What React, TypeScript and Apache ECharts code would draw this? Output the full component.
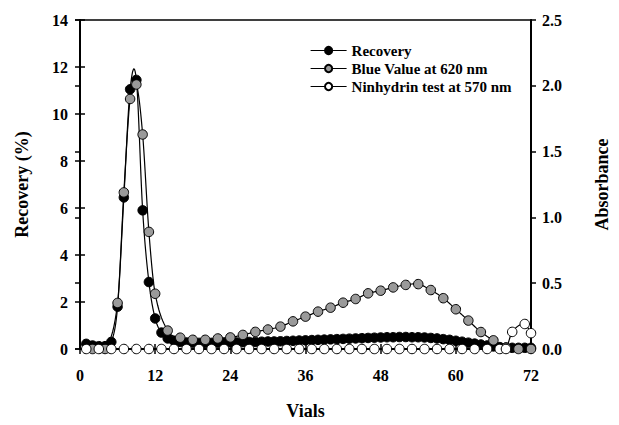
import React, { useEffect, useRef } from "react";
import * as echarts from "echarts";

const FONT = '"Times New Roman", "Liberation Serif", serif';

// Recovery (%) — left axis, every vial
const recoveryVials = [
  1, 2, 3, 4, 5, 6, 7, 8, 9, 10, 11, 12, 13, 14, 15, 16, 17, 18, 19, 20, 21, 22, 23, 24,
  25, 26, 27, 28, 29, 30, 31, 32, 33, 34, 35, 36, 37, 38, 39, 40, 41, 42, 43, 44, 45, 46, 47, 48,
  49, 50, 51, 52, 53, 54, 55, 56, 57, 58, 59, 60, 61, 62, 63, 64, 65, 66, 67, 68, 69, 70, 71, 72,
];
const recoveryPct = [
  0.22, 0.15, 0.12, 0.12, 0.3, 1.8, 6.45, 11.05, 11.45, 5.9, 2.85, 1.3, 0.7, 0.45, 0.35, 0.3, 0.28, 0.27, 0.26, 0.26, 0.26, 0.27, 0.27, 0.28,
  0.28, 0.29, 0.3, 0.3, 0.31, 0.32, 0.32, 0.33, 0.34, 0.35, 0.36, 0.37, 0.38, 0.39, 0.4, 0.41, 0.42, 0.43, 0.44, 0.45, 0.46, 0.47, 0.48, 0.49,
  0.5, 0.5, 0.51, 0.51, 0.5, 0.5, 0.49, 0.47, 0.45, 0.42, 0.39, 0.35, 0.31, 0.27, 0.23, 0.19, 0.15, 0.11, 0.08, 0.06, 0.05, 0.05, 0.05, 0.05,
];

// Blue Value at 620 nm — right axis (Absorbance)
const blueVials = [
  2, 4, 6, 7, 8, 9, 10, 11, 12, 14, 16, 18, 20, 22, 24, 26, 28, 30, 32, 34, 36, 38, 40,
  42, 44, 46, 48, 50, 52, 54, 56, 58, 60, 62, 64, 66, 68, 70, 72,
];
const blueAbs = [
  0.0, 0.0, 0.35, 1.19, 1.9, 2.01, 1.63, 0.89, 0.42, 0.14, 0.086, 0.07, 0.07, 0.08, 0.088, 0.107, 0.13, 0.148, 0.17, 0.21, 0.246, 0.284, 0.314,
  0.352, 0.38, 0.423, 0.443, 0.468, 0.487, 0.493, 0.448, 0.386, 0.302, 0.216, 0.129, 0.066, 0.01, 0.0, 0.0,
];

// Ninhydrin test at 570 nm — right axis (Absorbance)
const ninVials = [
  1, 3, 5, 7, 9, 11, 13, 15, 17, 19, 21, 23, 25, 27, 29, 31, 33, 35, 37, 39, 41, 43, 45,
  47, 49, 51, 53, 55, 57, 59, 61, 63, 65, 67, 68, 69, 71, 72,
];
const ninAbs = [
  0, 0, 0, 0, 0, 0, 0, 0, 0, 0, 0, 0, 0, 0, 0, 0, 0, 0, 0, 0, 0, 0, 0,
  0, 0, 0, 0, 0, 0, 0, 0, 0, 0, 0, 0, 0.13, 0.19, 0.12,
];

const seriesNames = ["Recovery", "Blue Value at 620 nm", "Ninhydrin test at 570 nm"];
const xAxisName = "Vials";
const leftAxisName = "Recovery (%)";
const rightAxisName = "Absorbance";

const pairs = (xs: number[], ys: number[]) => xs.map((x, i) => [x, ys[i]]);

const labelStyle = { color: "#000", fontFamily: FONT, fontWeight: "bold" as const, fontSize: 16 };
const nameStyle = { color: "#000", fontFamily: FONT, fontWeight: "bold" as const, fontSize: 18 };

// cubic Hermite spline (x-parameterised) through pixel points
function splinePts(p: number[][], steps = 10): number[][] {
  const n = p.length;
  const m = p.map((_, i) => {
    const a = p[Math.max(i - 1, 0)];
    const b = p[Math.min(i + 1, n - 1)];
    return (b[1] - a[1]) / (b[0] - a[0]);
  });
  const out: number[][] = [p[0]];
  for (let i = 0; i < n - 1; i++) {
    const [x0, y0] = p[i];
    const [x1, y1] = p[i + 1];
    const h = x1 - x0;
    for (let k = 1; k <= steps; k++) {
      const t = k / steps;
      const t2 = t * t, t3 = t2 * t;
      const y = (2 * t3 - 3 * t2 + 1) * y0 + (t3 - 2 * t2 + t) * h * m[i] + (-2 * t3 + 3 * t2) * y1 + (t3 - t2) * h * m[i + 1];
      out.push([x0 + t * h, y]);
    }
  }
  return out;
}

export default function App() {
  const ref = useRef<HTMLDivElement>(null);
  useEffect(() => {
    document.body.style.margin = "0";
    const chart = echarts.init(ref.current!, null, { renderer: "svg" });

    const curve = (data: number[][], yIdx: number, z: number) => ({
      type: "custom",
      xAxisIndex: 0,
      yAxisIndex: yIdx,
      data,
      silent: true,
      clip: false,
      z,
      renderItem: (params: any, api: any) => {
        if (params.dataIndex !== 0) return { type: "group", children: [] };
        const px = data.map((d) => api.coord(d));
        return {
          type: "polyline",
          shape: { points: splinePts(px) },
          style: { stroke: "#000", lineWidth: 1.2, fill: "none" },
        };
      },
    });

    const markers = (name: string, data: number[][], yIdx: number, fill: string, z: number) => ({
      name,
      type: "line",
      xAxisIndex: 0,
      yAxisIndex: yIdx,
      data,
      symbol: "circle",
      symbolSize: 9.5,
      showSymbol: true,
      showAllSymbol: true,
      clip: false,
      z,
      lineStyle: { color: "#000", width: 0, opacity: 0 },
      itemStyle: { color: fill, borderColor: "#000", borderWidth: 1 },
    });

    const recData = pairs(recoveryVials, recoveryPct);
    const blueData = pairs(blueVials, blueAbs);
    const ninData = pairs(ninVials, ninAbs);

    chart.setOption({
      animation: false,
      backgroundColor: "#fff",
      grid: { left: 80, right: 78, top: 20, bottom: 74, show: true, borderColor: "#000", borderWidth: 1.5 },
      legend: {
        data: seriesNames,
        orient: "vertical",
        left: 305,
        top: 38,
        itemWidth: 36,
        itemHeight: 9,
        itemGap: 3,
        lineStyle: { color: "#000", width: 1.2, opacity: 1 },
        textStyle: { color: "#000", fontFamily: FONT, fontWeight: "bold", fontSize: 15 },
      },
      xAxis: [
        {
          type: "value",
          min: 0,
          max: 72,
          interval: 12,
          position: "bottom",
          name: xAxisName,
          nameLocation: "middle",
          nameGap: 53,
          nameTextStyle: nameStyle,
          axisLine: { show: true, onZero: false, lineStyle: { color: "#000", width: 2 } },
          axisTick: { show: true, inside: false, length: 5, lineStyle: { color: "#000", width: 1.5 } },
          axisLabel: { ...labelStyle, margin: 18 },
          splitLine: { show: false },
        },
        {
          type: "value",
          min: 0,
          max: 72,
          interval: 12,
          position: "bottom",
          axisLine: { show: false },
          axisTick: { show: true, inside: true, length: 5, lineStyle: { color: "#000", width: 1.5 } },
          axisLabel: { show: false },
          splitLine: { show: false },
        },
      ],
      yAxis: [
        {
          type: "value",
          min: 0,
          max: 14,
          interval: 2,
          position: "left",
          name: leftAxisName,
          nameLocation: "middle",
          nameRotate: 90,
          nameGap: 49,
          nameTextStyle: nameStyle,
          axisLine: { show: true, onZero: false, lineStyle: { color: "#000", width: 2 } },
          axisTick: { show: true, inside: false, length: 5, lineStyle: { color: "#000", width: 1.5 } },
          axisLabel: { ...labelStyle, margin: 12 },
          splitLine: { show: false },
        },
        {
          type: "value",
          min: 0,
          max: 14,
          interval: 2,
          position: "left",
          axisLine: { show: false },
          axisTick: { show: true, inside: true, length: 5, lineStyle: { color: "#000", width: 1.5 } },
          axisLabel: { show: false },
          splitLine: { show: false },
        },
        {
          type: "value",
          min: 0,
          max: 2.5,
          interval: 0.5,
          position: "right",
          name: rightAxisName,
          nameLocation: "middle",
          nameRotate: 90,
          nameGap: 62,
          nameTextStyle: nameStyle,
          axisLine: { show: true, onZero: false, lineStyle: { color: "#000", width: 2 } },
          axisTick: { show: true, inside: false, length: 5, lineStyle: { color: "#000", width: 1.5 } },
          axisLabel: { ...labelStyle, margin: 11, formatter: (v: number) => v.toFixed(1) },
          splitLine: { show: false },
        },
        {
          type: "value",
          min: 0,
          max: 2.5,
          interval: 0.5,
          position: "right",
          axisLine: { show: false },
          axisTick: { show: true, inside: true, length: 5, lineStyle: { color: "#000", width: 1.5 } },
          axisLabel: { show: false },
          splitLine: { show: false },
        },
      ],
      series: [
        curve(recData, 0, 1),
        curve(blueData, 2, 1),
        curve(ninData, 2, 1),
        markers(seriesNames[0], recData, 0, "#000", 2),
        markers(seriesNames[1], blueData, 2, "#9a9a9a", 3),
        markers(seriesNames[2], ninData, 2, "#fff", 4),
      ],
    });
    return () => chart.dispose();
  }, []);
  return <div ref={ref} style={{ width: 619, height: 425 }} />;
}
